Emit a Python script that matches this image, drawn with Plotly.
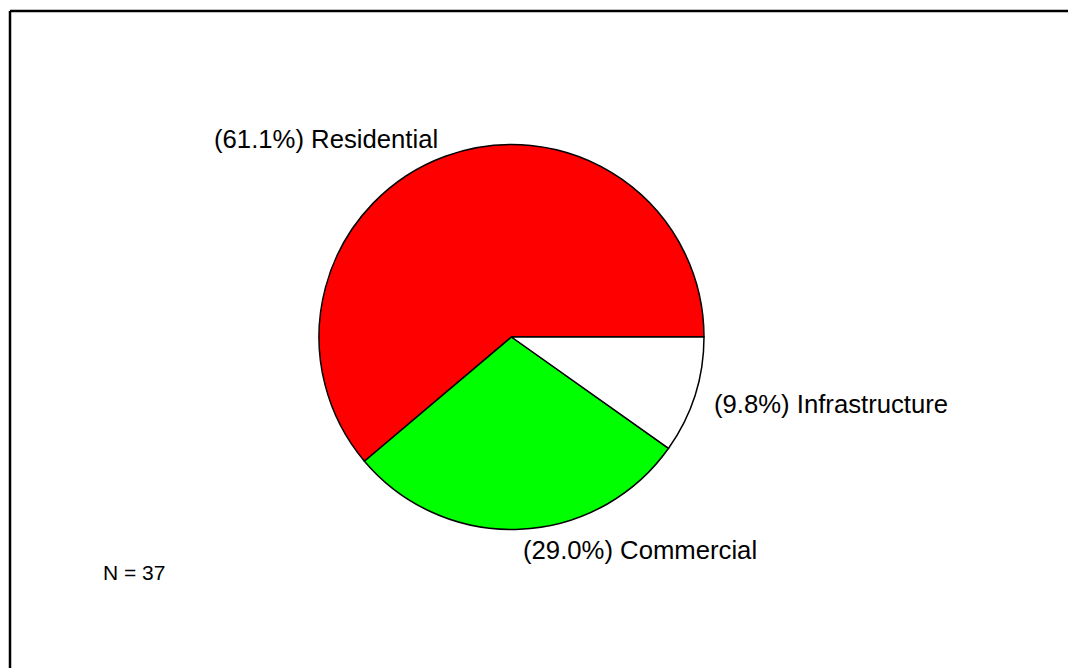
import plotly.graph_objects as go

categories = ["Residential", "Commercial", "Infrastructure"]
shares = [61.1, 29.0, 9.8]
colors = ["#ff0000", "#00ff00", "#ffffff"]
n_total = 37

W, H = 1068, 668
cx, cy, r = 511.5, 337.0, 192.5

# plotly's counterclockwise mode lays the first slice clockwise from the
# rotation point; place that point so the first slice begins at 3 o'clock.
first_frac = shares[0] / sum(shares)
rotation = 90 - 360 * first_frac

fig = go.Figure()
fig.add_trace(go.Pie(
    labels=categories,
    values=shares,
    sort=False,
    direction="counterclockwise",
    rotation=rotation,
    textinfo="none",
    hoverinfo="label+percent",
    marker=dict(colors=colors, line=dict(color="black", width=1.5)),
    showlegend=False,
    domain=dict(x=[(cx - r) / W, (cx + r) / W], y=[(H - cy - r) / H, (H - cy + r) / H]),
))

label_pos = {
    "Residential": (212, 139),
    "Commercial": (521, 550),
    "Infrastructure": (712, 404),
}
font = dict(family="Liberation Sans, Arial, sans-serif", size=25.7, color="black")
for cat, val in zip(categories, shares):
    x, y = label_pos[cat]
    fig.add_annotation(
        x=x / W, y=1 - y / H, xref="paper", yref="paper",
        text=f"({val:.1f}%) {cat}", showarrow=False,
        xanchor="left", yanchor="middle", font=font,
    )

fig.add_annotation(
    x=101 / W, y=1 - 572 / H, xref="paper", yref="paper",
    text=f"N = {n_total}", showarrow=False, xanchor="left", yanchor="middle",
    font=dict(family="Liberation Sans, Arial, sans-serif", size=21, color="black"),
)

# frame (top and left edges visible)
fig.add_shape(type="line", xref="paper", yref="paper",
              x0=10 / W, y0=0, x1=10 / W, y1=1 - 11 / H,
              line=dict(color="black", width=2.5))
fig.add_shape(type="line", xref="paper", yref="paper",
              x0=10 / W, y0=1 - 11 / H, x1=1, y1=1 - 11 / H,
              line=dict(color="black", width=2.5))

fig.update_layout(
    width=W, height=H,
    margin=dict(l=0, r=0, t=0, b=0),
    paper_bgcolor="white", plot_bgcolor="white",
)
fig.write_html("out.html")
